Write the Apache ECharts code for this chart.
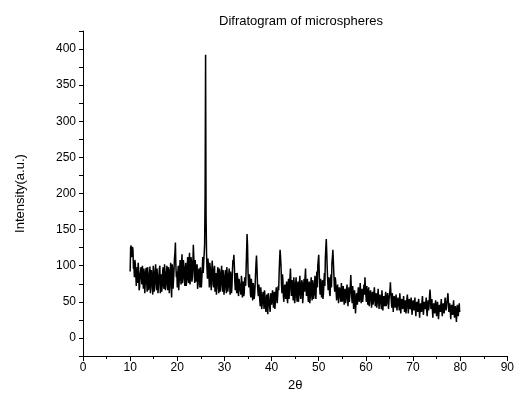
<!DOCTYPE html>
<html>
<head>
<meta charset="utf-8">
<script src="https://cdn.jsdelivr.net/npm/echarts@6/dist/echarts.min.js"></script>
<style>
html,body{margin:0;padding:0;background:#fff;}
#chart{width:517px;height:405px;}
</style>
</head>
<body>
<div id="chart"></div>
<script>
const chartTitle = 'Difratogram of microspheres';
const xAxisName = '2θ';
const yAxisName = 'Intensity(a.u.)';
const twoThetaStart = 10.0;
const twoThetaStep = 0.1;
// intensity readings at 10.0, 10.2, ... 80.0 deg
const even10s = [92,128,118,122,100,108,88,98,76,95, 70,92,82,100,68,90,75,97,64,88, 72,99,70,86,60,92,74,102,66,85, 70,96,62,88,74,98,68,90,76,100, 66,94,78,104,56,96,80,110,132,84];
const even20s = [70,100,78,108,74,116,82,98,72,104, 80,112,76,118,86,106,84,129,90,108, 78,102,74,96,70,100,82,112,104,130, 392,118,82,100,70,96,66,107,74,94, 64,90,70,98,62,92,72,100,64,86];
const even30s = [68,94,62,88,70,96,60,84,72,108, 115,78,90,62,84,58,80,64,86,56, 78,62,82,96,144,92,70,80,56,74, 52,70,60,88,114,76,58,66,44,62, 46,64,40,58,36,60,33,56,42,62];
const even40s = [46,66,42,64,50,70,48,72,90,122, 100,62,80,50,74,54,78,48,82,66, 96,58,80,52,76,56,84,50,78,60, 86,54,80,48,74,64,96,58,82,50, 78,56,84,52,76,60,86,54,92,100];
const even50s = [115,70,82,56,80,62,90,110,137,96, 66,84,58,88,104,122,90,64,78,52, 74,48,70,56,76,50,72,46,68,54, 74,44,70,60,87,56,72,40,66,34, 62,46,70,50,76,48,68,56,74,84];
const even60s = [60,72,46,70,52,66,42,64,50,70, 44,62,48,68,40,60,46,66,38,58, 44,64,48,62,40,60,77,50,62,36, 58,42,60,38,56,44,62,34,54,40, 58,36,52,42,60,34,54,40,56,32];
const even70s = [52,38,56,30,50,36,54,28,48,36, 58,32,50,40,56,30,52,44,67,40, 54,28,48,34,52,30,50,26,46,36, 54,30,48,34,56,38,50,62,36,48, 26,46,32,52,28,44,22,46,30,48, 36];
// intensity readings at 10.1, 10.3, ... 79.9 deg
const odd10s = [125,112,126,96,84,102,72,90,104,66, 86,98,74,84,96,62,92,80,98,66, 86,62,94,78,100,64,88,80,96,62, 84,100,76,64,92,72,102,66,88,74, 98,62,90,70,102,68,94,118,100,92];
const odd20s = [88,66,96,84,102,76,108,86,96,72, 94,84,108,74,112,78,100,112,76,94, 96,68,90,84,98,70,96,90,116,200, 170,96,110,88,104,80,92,96,70,100, 82,60,88,78,96,64,86,80,94,60];
const odd30s = [84,74,98,64,86,76,92,62,94,104, 100,66,80,90,64,82,70,60,78,68, 58,84,72,120,128,74,88,62,82,60, 76,54,72,104,98,64,74,52,70,40, 58,52,66,46,54,40,62,48,36,54];
const odd40s = [56,60,52,40,62,56,60,66,108,112, 74,88,58,68,62,70,56,72,54,84, 76,70,62,84,48,74,62,70,50,76, 62,68,76,58,82,84,72,68,60,74, 48,72,62,80,54,70,62,78,70,108];
const odd50s = [92,60,72,70,54,76,72,124,118,80, 74,62,76,70,112,106,72,84,62,66, 62,60,64,50,66,62,56,62,48,66, 58,56,50,72,70,48,60,54,50,48, 56,60,56,64,58,62,50,66,60,70];
const odd60s = [50,58,62,44,60,54,56,46,62,56, 54,42,58,52,56,52,40,56,50,48, 56,44,56,52,52,66,62,42,52,50, 50,52,46,50,52,38,50,48,46,50, 46,48,34,54,46,48,44,50,40,46];
const odd70s = [44,48,40,44,42,48,40,42,40,50, 44,42,46,48,38,44,38,58,56,46, 40,42,38,46,40,42,38,36,44,46, 40,42,40,46,46,42,56,50,42,38, 40,38,42,38,36,34,36,38,40,36];

const evenVals = [].concat(even10s, even20s, even30s, even40s, even50s, even60s, even70s);
const oddVals = [].concat(odd10s, odd20s, odd30s, odd40s, odd50s, odd60s, odd70s);
const intensity = [];
for (let i = 0; i < evenVals.length; i++) {
  intensity.push(evenVals[i]);
  if (i < oddVals.length) intensity.push(oddVals[i]);
}
const seriesData = intensity.map((v, i) => [+(twoThetaStart + i * twoThetaStep).toFixed(1), v]);

const font = 'Liberation Sans, Arial, sans-serif';
const chart = echarts.init(document.getElementById('chart'), null, {renderer: 'canvas'});
chart.setOption({
  animation: false,
  backgroundColor: '#ffffff',
  title: {
    text: chartTitle,
    left: 296, top: 10, textAlign: 'center',
    textStyle: {fontFamily: font, fontSize: 13, fontWeight: 'normal', color: '#000'}
  },
  grid: {left: 83, right: 7, top: 31, bottom: 49, containLabel: false},
  xAxis: {
    type: 'value', min: 0, max: 90, interval: 10,
    name: xAxisName, nameLocation: 'middle', nameGap: 22,
    nameTextStyle: {fontFamily: font, fontSize: 13, color: '#000'},
    axisLine: {show: true, onZero: false, lineStyle: {color: '#000', width: 1}},
    axisTick: {show: true, inside: false, length: 5, lineStyle: {color: '#000'}},
    minorTick: {show: true, splitNumber: 2, length: 3, lineStyle: {color: '#000'}},
    axisLabel: {fontFamily: font, fontSize: 12, color: '#000', margin: 6},
    splitLine: {show: false}
  },
  yAxis: {
    type: 'value', min: -25, max: 425, interval: 25,
    name: yAxisName, nameLocation: 'middle', nameGap: 56, nameRotate: 90,
    nameTextStyle: {fontFamily: font, fontSize: 13, color: '#000'},
    axisLine: {show: true, onZero: false, lineStyle: {color: '#000', width: 1}},
    axisTick: {show: true, inside: false, length: 4, lineStyle: {color: '#000'}},
    axisLabel: {
      fontFamily: font, fontSize: 12, color: '#000', margin: 7,
      formatter: v => (v % 50 === 0 && v >= 0 && v <= 400) ? String(v) : ''
    },
    splitLine: {show: false}
  },
  series: [{
    type: 'line', data: seriesData, symbol: 'none', sampling: false,
    lineStyle: {color: '#000', width: 1.5, join: 'miter', miterLimit: 2}
  }]
});
</script>
</body>
</html>
